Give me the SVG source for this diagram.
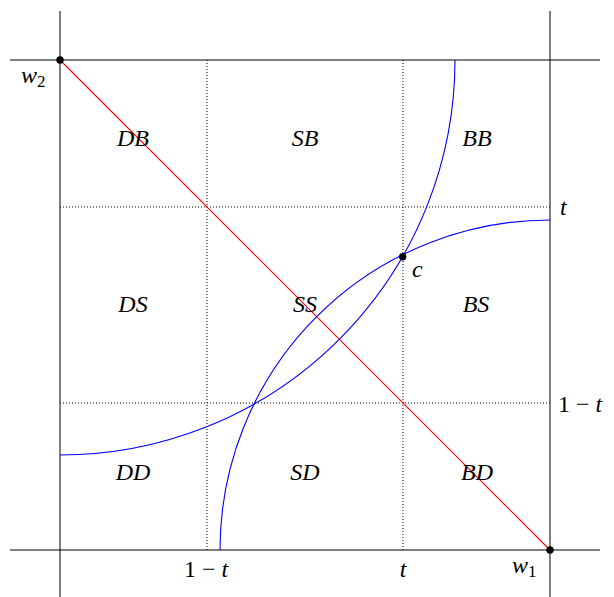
<svg xmlns="http://www.w3.org/2000/svg" width="614" height="597" viewBox="0 0 614 597">
<style>
.ax{stroke:#000;stroke-width:1;fill:none}
.dot{stroke:#000;stroke-width:1;stroke-dasharray:1 2;fill:none}
.blue{stroke:#0000ff;stroke-width:1.1;fill:none}
.red{stroke:#ff0000;stroke-width:1.1;fill:none}
.pt{fill:#000}
.lb{font-family:"Liberation Serif","Times New Roman",serif;font-style:italic;font-size:24px;fill:#000}
.up{font-style:normal}
.sub{font-size:17px;font-style:normal}
</style>
<rect width="614" height="597" fill="#fff"/>
<g id="grid">
<line class="dot" x1="207" y1="60" x2="207" y2="550"/>
<line class="dot" x1="403" y1="60" x2="403" y2="550"/>
<line class="dot" x1="60" y1="207" x2="550" y2="207"/>
<line class="dot" x1="60" y1="403" x2="550" y2="403"/>
</g>
<g id="axes">
<line class="ax" x1="60" y1="11" x2="60" y2="597"/>
<line class="ax" x1="550" y1="11" x2="550" y2="597"/>
<line class="ax" x1="10" y1="60" x2="600" y2="60"/>
<line class="ax" x1="10" y1="550" x2="600" y2="550"/>
</g>
<g id="connectors">
<line class="red" x1="60" y1="60" x2="550" y2="550"/>
<path class="blue" d="M220,550 A330,330 0 0 1 550,220"/>
<path class="blue" d="M60,455 A395,395 0 0 0 455,60"/>
</g>
<g id="points">
<circle class="pt" cx="60" cy="60" r="3.7"/>
<circle class="pt" cx="550" cy="550" r="3.7"/>
<circle class="pt" cx="402.7" cy="256.7" r="3.7"/>
</g>
<g id="labels" class="lb">
<text x="133" y="146" text-anchor="middle">DB</text>
<text x="305" y="146" text-anchor="middle">SB</text>
<text x="477" y="146" text-anchor="middle">BB</text>
<text x="133" y="312" text-anchor="middle">DS</text>
<text x="305" y="312" text-anchor="middle">SS</text>
<text x="476" y="312" text-anchor="middle">BS</text>
<text x="133" y="480" text-anchor="middle">DD</text>
<text x="305" y="480" text-anchor="middle">SD</text>
<text x="477" y="480" text-anchor="middle">BD</text>
<text x="412" y="277">c</text>
<text x="21" y="83">w<tspan class="sub" dy="4">2</tspan></text>
<text x="512" y="573">w<tspan class="sub" dy="4">1</tspan></text>
<text x="403" y="577" text-anchor="middle">t</text>
<text x="206" y="577" text-anchor="middle"><tspan class="up">1 − </tspan>t</text>
<text x="560" y="215">t</text>
<text x="558" y="412"><tspan class="up">1 − </tspan>t</text>
</g>
</svg>
